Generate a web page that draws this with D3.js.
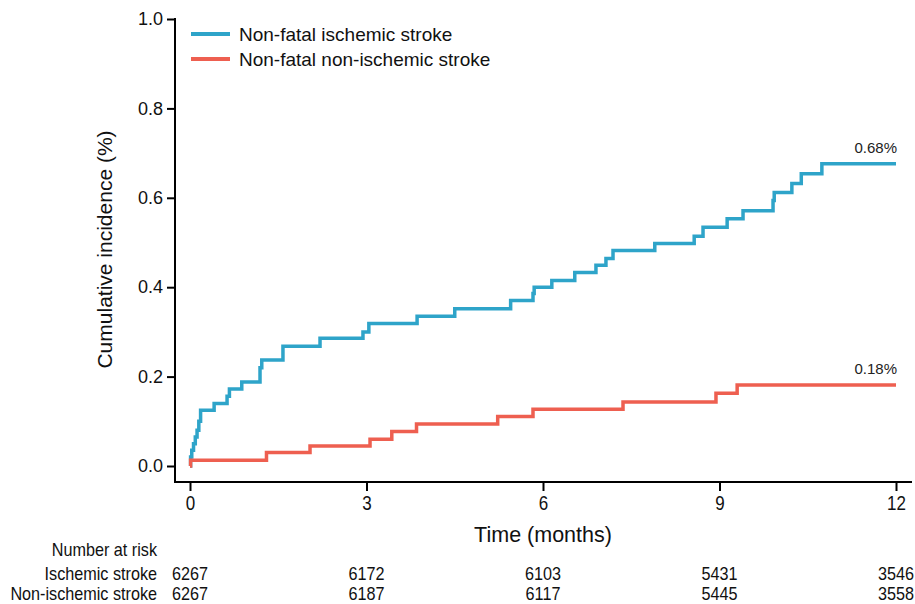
<!DOCTYPE html>
<html>
<head>
<meta charset="utf-8">
<script src="https://cdn.jsdelivr.net/npm/d3@7"></script>
<style>
  body { margin: 0; background: #fff; }
  svg { display: block; font-family: "Liberation Sans", Arial, sans-serif; }
</style>
</head>
<body>
<div id="chart"></div>
<script>
// time (months) / cumulative incidence (%) step points
const ischemic = [
  [0, 0], [0.01, 0.02], [0.03, 0.035], [0.06, 0.05], [0.09, 0.065], [0.12, 0.08],
  [0.15, 0.1], [0.18, 0.125], [0.41, 0.14], [0.63, 0.156], [0.67, 0.172],
  [0.88, 0.188], [1.19, 0.22], [1.22, 0.237], [1.58, 0.268], [2.21, 0.286],
  [2.94, 0.30], [3.04, 0.319], [3.86, 0.335], [4.5, 0.352], [5.45, 0.37],
  [5.83, 0.386], [5.85, 0.40], [6.15, 0.415], [6.54, 0.433], [6.9, 0.449],
  [7.07, 0.464], [7.19, 0.482], [7.9, 0.498], [8.57, 0.514], [8.72, 0.534],
  [9.13, 0.553], [9.4, 0.571], [9.91, 0.594], [9.93, 0.612], [10.23, 0.632],
  [10.39, 0.654], [10.74, 0.676], [12, 0.676]
]
const nonIschemic = [
  [0, 0], [0.01, 0.013], [1.3, 0.03], [2.04, 0.045], [3.06, 0.06], [3.43, 0.077],
  [3.85, 0.094], [5.23, 0.111], [5.83, 0.127], [7.36, 0.143], [8.94, 0.163],
  [9.3, 0.181], [12, 0.181]
]
const seriesNames = ["Non-fatal ischemic stroke", "Non-fatal non-ischemic stroke"]
const seriesColors = ["#2ea4c9", "#ee5f50"]
const endLabels = ["0.68%", "0.18%"]
const xTicks = [0, 3, 6, 9, 12]
const yTicks = [0, 0.2, 0.4, 0.6, 0.8, 1.0]
const riskRows = ["Ischemic stroke", "Non-ischemic stroke"]
const riskIschemic = [6267, 6172, 6103, 5431, 3546]
const riskNonIschemic = [6267, 6187, 6117, 5445, 3558]

const width = 915, height = 604

const svg = d3.select("#chart").append("svg")
  .attr("width", width)
  .attr("height", height)

const x = d3.scaleLinear().domain([0, 12]).range([190, 896])
const y = d3.scaleLinear().domain([0, 1]).range([466, 19])

const axisLeftX = 175, axisBottomY = 482

// condensed text helper (no narrow font installed)
function narrowText(parent, px, py, str, size, sx, anchor) {
  return parent.append("text")
    .attr("transform", `translate(${px},${py}) scale(${sx},1)`)
    .attr("text-anchor", anchor)
    .attr("font-size", size)
    .attr("fill", "#111")
    .text(str)
}

// Y axis
svg.append("g")
  .attr("transform", `translate(${axisLeftX},0)`)
  .call(d3.axisLeft(y).tickValues(yTicks).tickFormat(d3.format(".1f")).tickSize(8).tickSizeOuter(0))
  .call(g => g.select(".domain").remove())
  .call(g => g.selectAll(".tick line").attr("stroke", "#000").attr("stroke-width", 2))
  .call(g => g.selectAll(".tick text").attr("x", -12).attr("font-size", 18).attr("fill", "#111")
    .attr("font-family", "'Liberation Sans', Arial, sans-serif"))
svg.append("line")
  .attr("x1", axisLeftX).attr("x2", axisLeftX)
  .attr("y1", y(1) - 1).attr("y2", axisBottomY + 1)
  .attr("stroke", "#000").attr("stroke-width", 2)

// X axis
svg.append("g")
  .attr("transform", `translate(0,${axisBottomY})`)
  .call(d3.axisBottom(x).tickValues(xTicks).tickSize(9).tickSizeOuter(0))
  .call(g => g.select(".domain").remove())
  .call(g => g.selectAll(".tick line").attr("stroke", "#000").attr("stroke-width", 2))
  .call(g => g.selectAll(".tick text").attr("y", 14).attr("font-size", 20).attr("fill", "#111")
    .attr("font-family", "'Liberation Sans', Arial, sans-serif")
    .attr("transform", "scale(0.85,1)")
    .attr("x", 0))
svg.append("line")
  .attr("x1", axisLeftX - 1).attr("x2", 912)
  .attr("y1", axisBottomY).attr("y2", axisBottomY)
  .attr("stroke", "#000").attr("stroke-width", 2)

// Axis titles
narrowText(svg, x(6), 542, "Time (months)", 21.5, 1, "middle")
svg.append("text")
  .attr("transform", `translate(112,${y(0.5) + 7}) rotate(-90)`)
  .attr("text-anchor", "middle")
  .attr("font-size", 21)
  .attr("fill", "#111")
  .text("Cumulative incidence (%)")

// Curves
const line = d3.line()
  .x(d => x(d[0]))
  .y(d => y(d[1]))
  .curve(d3.curveStepAfter)

const series = [ischemic, nonIschemic]
series.forEach((s, i) => {
  svg.append("path")
    .datum(s)
    .attr("d", line)
    .attr("fill", "none")
    .attr("stroke", seriesColors[i])
    .attr("stroke-width", 3.5)
})

// End labels
series.forEach((s, i) => {
  const last = s[s.length - 1]
  svg.append("text")
    .attr("x", x(last[0]) + 1)
    .attr("y", y(last[1]) - 11)
    .attr("text-anchor", "end")
    .attr("font-size", 15)
    .attr("fill", "#222")
    .text(endLabels[i])
})

// Legend
const legend = svg.append("g")
seriesNames.forEach((name, i) => {
  const ly = 34 + i * 25
  legend.append("line")
    .attr("x1", 191).attr("x2", 230)
    .attr("y1", ly).attr("y2", ly)
    .attr("stroke", seriesColors[i])
    .attr("stroke-width", 4)
  legend.append("text")
    .attr("x", 239).attr("y", ly + 7)
    .attr("font-size", 19)
    .attr("fill", "#111")
    .text(name)
})

// Number at risk table
const table = svg.append("g")
const tSize = 18, tScale = 0.9
narrowText(table, 157, 556, "Number at risk", tSize, tScale, "end")
const riskData = [riskIschemic, riskNonIschemic]
riskRows.forEach((row, r) => {
  const ry = 580 + r * 20
  narrowText(table, 157, ry, row, tSize, tScale, "end")
  riskData[r].forEach((v, j) => {
    narrowText(table, x(xTicks[j]), ry, v, tSize, tScale, "middle")
  })
})
</script>
</body>
</html>
